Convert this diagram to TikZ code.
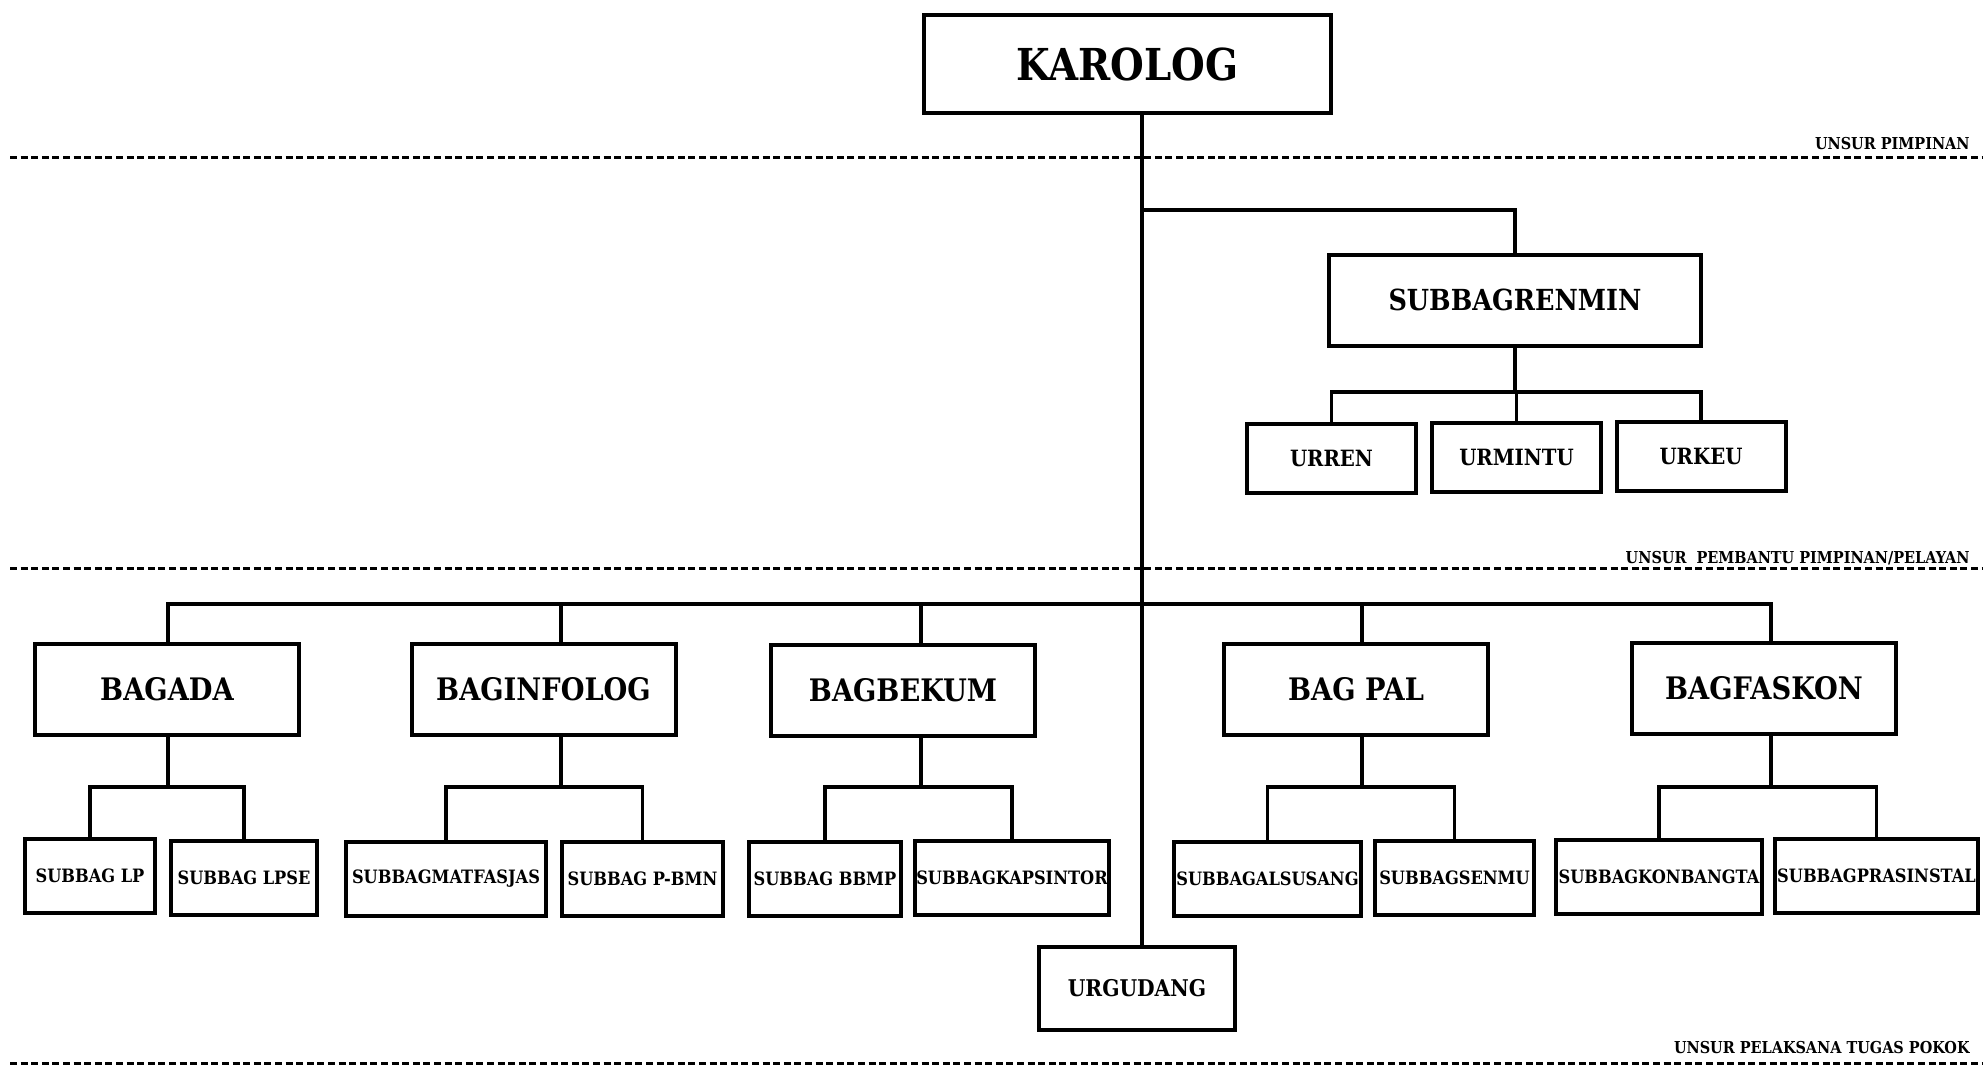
\documentclass[tikz,border=0pt]{standalone}
\usepackage{fontspec}
\setmainfont{DejaVu Serif}[FakeStretch=0.88]
\usetikzlibrary{positioning}

\begin{document}
\begin{tikzpicture}[x=0.5pt, y=-0.5pt,
    box/.style={draw, line width=2pt, inner sep=0pt, align=center},
    topbox/.style={box, minimum width=203.5pt, minimum height=49pt, font=\fontsize{22}{26}\selectfont\bfseries},
    bagbox/.style={box, minimum width=132pt, minimum height=45.5pt, font=\fontsize{15.5}{18}\selectfont\bfseries},
    urbox/.style={box, minimum width=84.5pt, minimum height=34.5pt, font=\fontsize{11.2}{13}\selectfont\bfseries},
    subbox/.style={box, minimum height=37pt, font=\fontsize{9.2}{11}\selectfont\bfseries},
    link/.style={line width=1.7pt, line cap=rect},
    sepline/.style={line width=1.5pt, dash pattern=on 3.5pt off 1.8pt},
    unsur/.style={inner sep=0pt, anchor=base east, font=\fontsize{8.2}{10}\selectfont\bfseries}]
    \useasboundingbox (0,0) rectangle (1983,1065);

    % Pimpinan
    \node[topbox] (karolog) at (1127.5,64) {KAROLOG};

    % Pembantu pimpinan
    \node[bagbox, minimum width=186pt, font=\fontsize{14.5}{17}\selectfont\bfseries] (renmin) at (1515,300) {SUBBAGRENMIN};
    \node[urbox] (urren) at (1331.5,458.5) {URREN};
    \node[urbox] (urmintu) at (1516.5,457.5) {URMINTU};
    \node[urbox] (urkeu) at (1701,456.5) {URKEU};

    % Bagian
    \node[bagbox] (bagada) at (167,689.5) {BAGADA};
    \node[bagbox] (baginfolog) at (543.5,689.5) {BAGINFOLOG};
    \node[bagbox] (bagbekum) at (903,690) {BAGBEKUM};
    \node[bagbox] (bagpal) at (1356,689.5) {BAG PAL};
    \node[bagbox] (bagfaskon) at (1764,688) {BAGFASKON};

    % Subbagian
    \node[subbox, minimum width=65pt] (lp) at (90,876) {SUBBAG LP};
    \node[subbox, minimum width=73pt] (lpse) at (244,878) {SUBBAG LPSE};
    \node[subbox, minimum width=100pt] (matfasjas) at (446,879) {SUBBAGMATFASJAS};
    \node[subbox, minimum width=80.5pt] (pbmn) at (642.5,878.5) {SUBBAG P-BMN};
    \node[subbox, minimum width=76pt] (bbmp) at (825,878.5) {SUBBAG BBMP};
    \node[subbox, minimum width=97pt] (kapsintor) at (1012,877.5) {SUBBAGKAPSINTOR};
    \node[subbox, minimum width=93.5pt] (alsusang) at (1267.5,878.5) {SUBBAGALSUSANG};
    \node[subbox, minimum width=79.5pt] (senmu) at (1454.5,878) {SUBBAGSENMU};
    \node[subbox, minimum width=103pt] (konbangta) at (1659,876.5) {SUBBAGKONBANGTA};
    \node[subbox, minimum width=101.5pt] (prasinstal) at (1876.5,876) {SUBBAGPRASINSTAL};

    % Urgudang
    \node[urbox, minimum width=98pt, minimum height=41.5pt, font=\fontsize{11.5}{13}\selectfont\bfseries] (urgudang) at (1137,988.5) {URGUDANG};

    % Garis komando
    \coordinate (trunk) at (1142,0);
    \draw[link] (karolog.south -| trunk) -- (urgudang.north -| trunk);
    \draw[link] (trunk |- 0,210) -| (renmin.north);
    \foreach \c in {urren,urmintu,urkeu}
        \draw[link] (renmin.south) |- (\c.north |- 0,392) -- (\c.north);
    \draw[link] (168,604) -- (1771,604);
    \foreach \n/\x/\a/\b in {bagada/168/lp/lpse, baginfolog/561/matfasjas/pbmn,
        bagbekum/921/bbmp/kapsintor, bagpal/1362/alsusang/senmu, bagfaskon/1771/konbangta/prasinstal}{
        \draw[link] (\x,604) -- (\x,0 |- \n.north);
        \draw[link] (\x,0 |- \n.south) -- (\x,787) -| (\a.north);
        \draw[link] (\x,787) -| (\b.north);
    }

    % Batas unsur
    \draw[sepline] (10,158) -- (1983,158);
    \draw[sepline] (10,568) -- (1983,568);
    \draw[sepline] (10,1063) -- (1983,1063);
    \node[unsur] (lblpimpinan) at (1970,150) {UNSUR PIMPINAN};
    \node[unsur] (lblpembantu) at (1970,563) {UNSUR\ \ PEMBANTU PIMPINAN/PELAYAN};
    \node[unsur] (lblpelaksana) at (1970,1053) {UNSUR PELAKSANA TUGAS POKOK};
\end{tikzpicture}
\end{document}
